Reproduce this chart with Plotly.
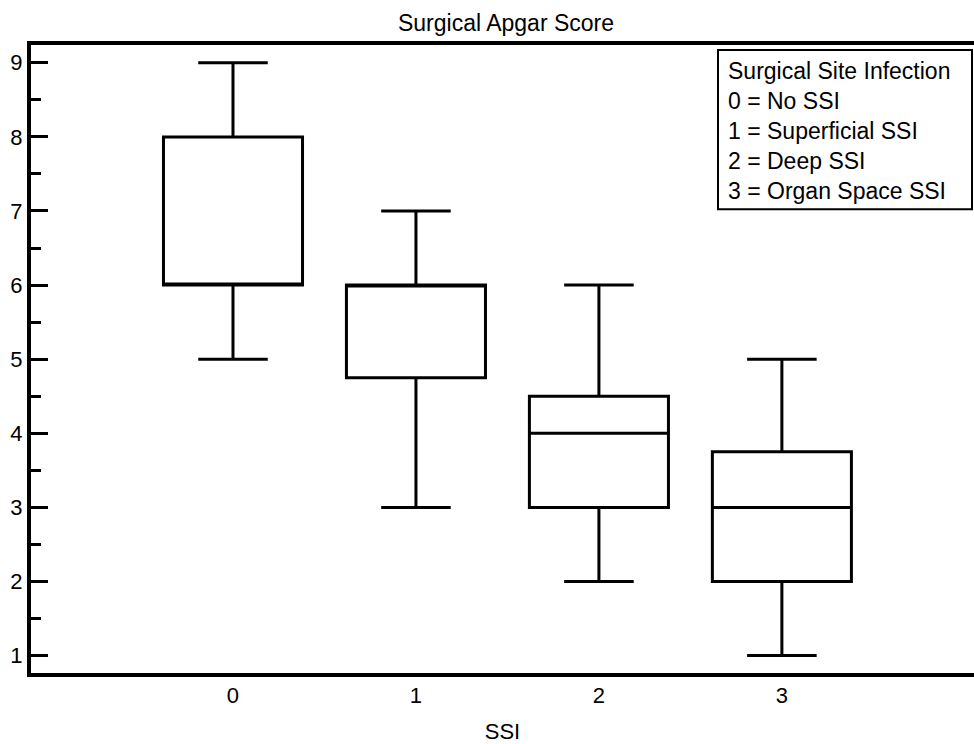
import plotly.graph_objects as go

# Surgical Apgar Score by surgical site infection class
ssi_groups = [0, 1, 2, 3]
lower_whisker = [5, 3, 2, 1]
q1_values = [6, 4.75, 3, 2]
medians = [6, 6, 4, 3]
q3_values = [8, 6, 4.5, 3.75]
upper_whisker = [9, 7, 6, 5]

legend_lines = [
    "Surgical Site Infection",
    "0 = No SSI",
    "1 = Superficial SSI",
    "2 = Deep SSI",
    "3 = Organ Space SSI",
]

W, H = 974, 744
ML, MR, MT, MB = 31, 0, 45, 68
PW, PH = W - ML - MR, H - MT - MB


def px_x(px):
    return (px - ML) / PW


def px_y(py):
    return 1 - (py - MT) / PH


fig = go.Figure()
fig.add_trace(go.Box(
    x=ssi_groups,
    q1=q1_values,
    median=medians,
    q3=q3_values,
    lowerfence=lower_whisker,
    upperfence=upper_whisker,
    width=0.76,
    whiskerwidth=0.5,
    fillcolor="white",
    line=dict(color="black", width=3),
    showlegend=False,
    hoverinfo="skip",
))

font_family = "Arial, Liberation Sans, sans-serif"

fig.update_layout(
    width=W,
    height=H,
    margin=dict(l=ML, r=MR, t=MT, b=MB),
    paper_bgcolor="white",
    plot_bgcolor="white",
    font=dict(family=font_family, size=21, color="black"),
    title=dict(text="Surgical Apgar Score", x=506 / W, xanchor="center",
               y=1 - 23 / H, yanchor="middle",
               font=dict(family=font_family, size=23, color="black")),
    xaxis=dict(
        range=[-1.104, 4.05],
        tickmode="array",
        tickvals=ssi_groups,
        ticktext=[str(g) for g in ssi_groups],
        ticks="",
        showgrid=False,
        zeroline=False,
        showline=True,
        linecolor="black",
        linewidth=4,
        mirror=True,
        title=dict(text="SSI", standoff=20, font=dict(size=22)),
        tickfont=dict(size=22),
    ),
    yaxis=dict(
        range=[0.765, 9.24],
        tickmode="linear",
        tick0=1,
        dtick=1,
        ticks="inside",
        ticklen=17,
        tickwidth=3,
        tickcolor="black",
        minor=dict(dtick=0.5, tick0=0.5, ticks="inside", ticklen=10,
                   tickwidth=3, tickcolor="black", showgrid=False),
        showgrid=False,
        zeroline=False,
        showline=True,
        linecolor="black",
        linewidth=4,
        mirror=False,
        tickfont=dict(size=22),
    ),
)

# Key box describing the SSI codes
fig.add_shape(
    type="rect", xref="paper", yref="paper",
    x0=px_x(718), x1=px_x(972), y0=px_y(210), y1=px_y(50),
    line=dict(color="black", width=2), fillcolor="white", layer="above",
)
fig.add_annotation(
    xref="paper", yref="paper",
    x=px_x(727), y=px_y(57),
    xanchor="left", yanchor="top",
    text="<br>".join(legend_lines),
    align="left",
    showarrow=False,
    font=dict(family=font_family, size=23, color="black"),
    borderpad=0,
)

fig.write_html("out.html")
